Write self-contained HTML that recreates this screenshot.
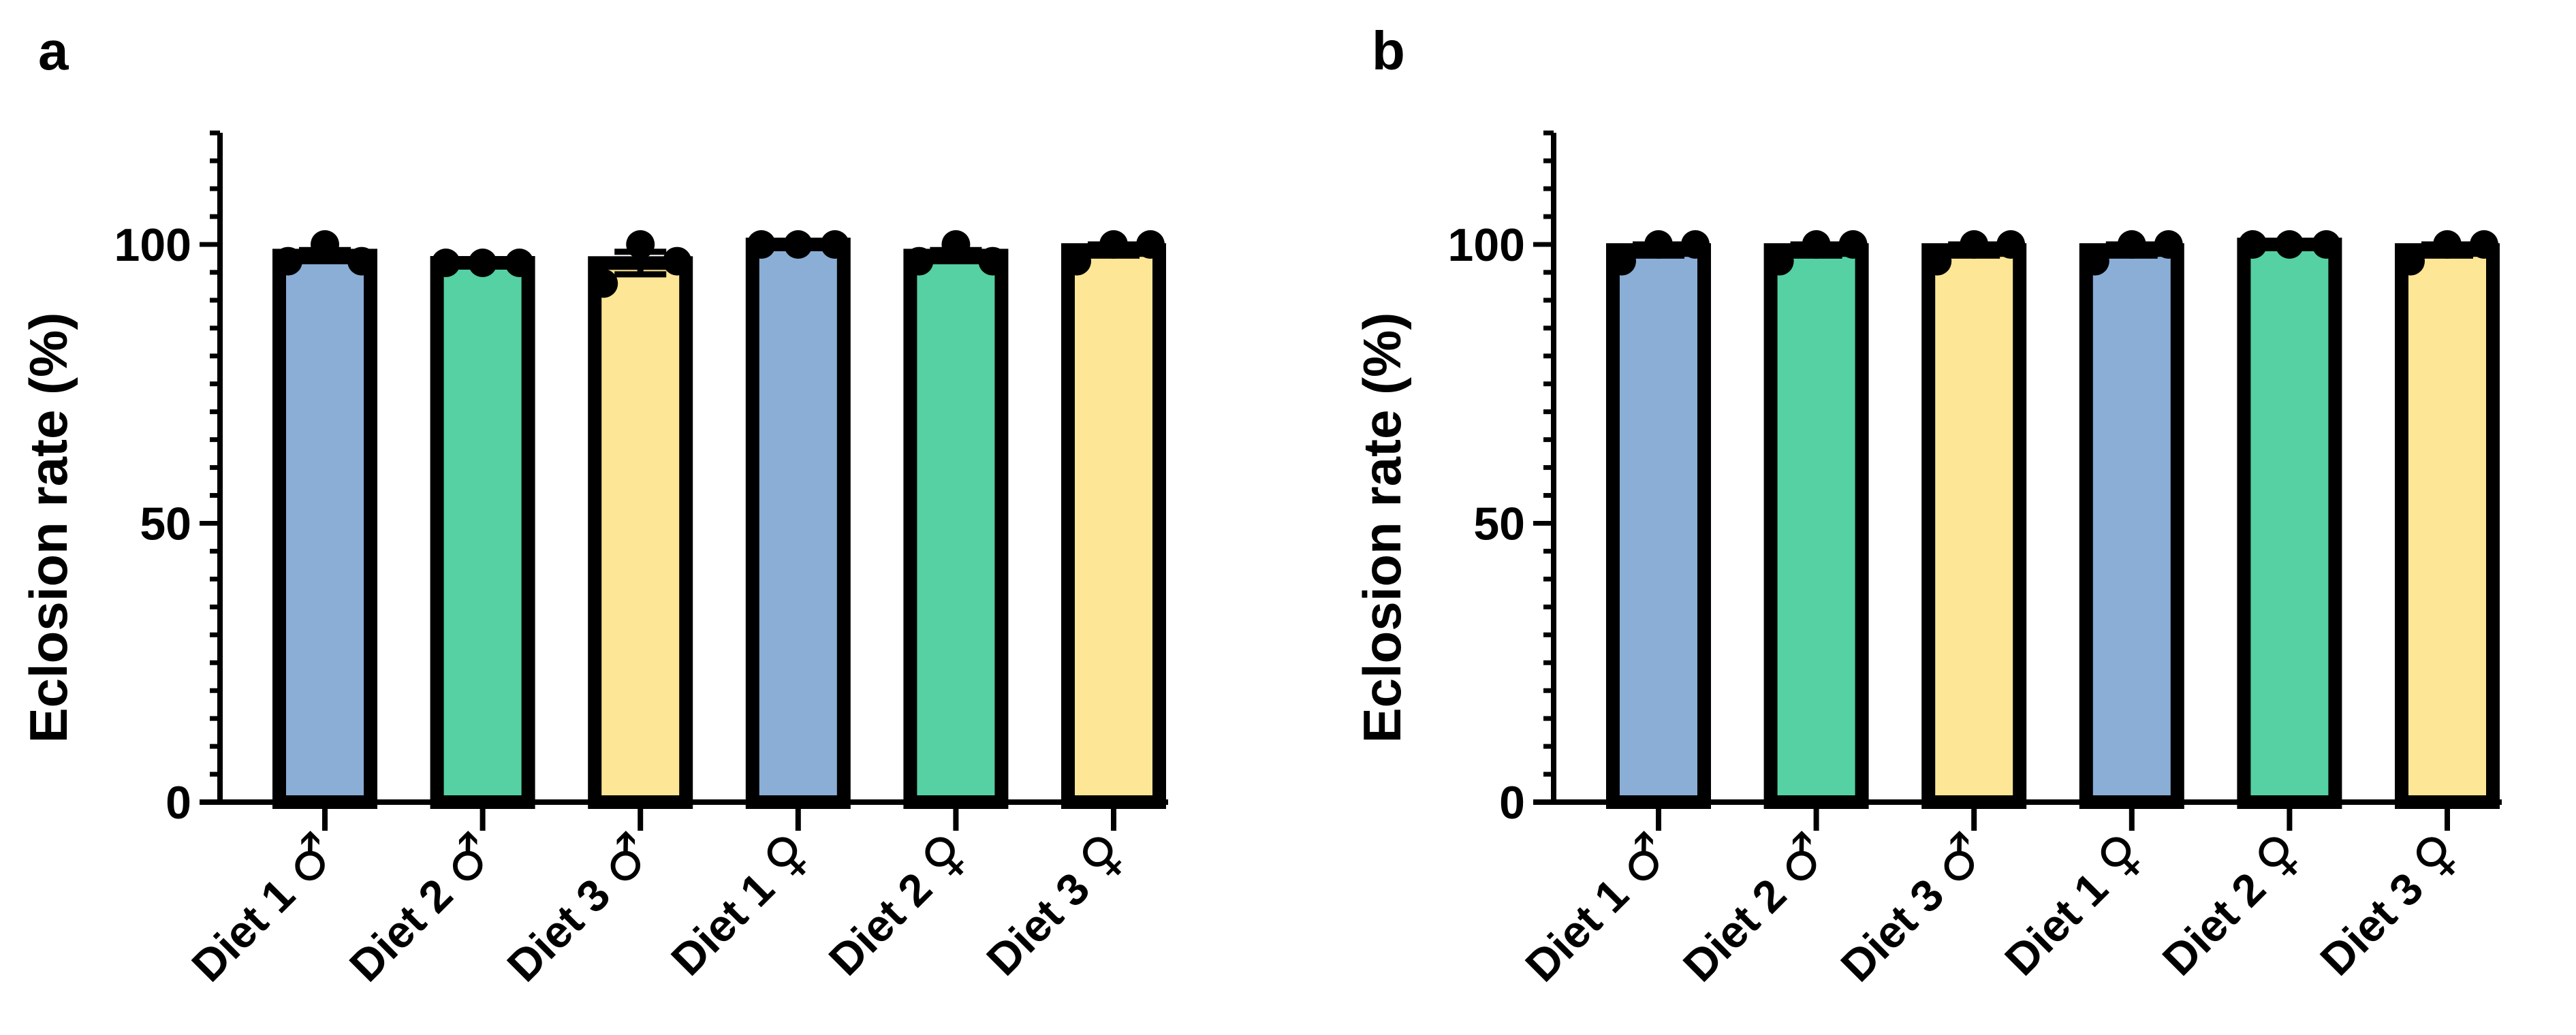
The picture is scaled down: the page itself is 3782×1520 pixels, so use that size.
<!DOCTYPE html>
<html><head><meta charset="utf-8"><style>
html,body{margin:0;padding:0;background:#fff}
svg{display:block}
text{font-family:"Liberation Sans","DejaVu Sans",sans-serif;font-weight:bold;fill:#000}
.sym{font-family:"DejaVu Sans",sans-serif;font-weight:bold}
</style></head><body>
<svg id="fig" width="3782" height="1520" viewBox="0 0 3782 1520" xmlns="http://www.w3.org/2000/svg">
<text x="56" y="102" font-size="80">a</text>
<text x="2014" y="102" font-size="80">b</text>
</svg>
<script>
const categories = ["Diet 1","Diet 2","Diet 3","Diet 1","Diet 2","Diet 3"];
const sexes = ["♂","♂","♂","♀","♀","♀"];
const colors = ["#8aaed6","#55d1a3","#fde696","#8aaed6","#55d1a3","#fde696"];
const yTicks = [0,50,100];
const pointsA = [[97,100,97],[96.7,96.7,96.7],[93,100,97],[100,100,100],[97,100,97],[97,100,100]];
const pointsB = [[97,100,100],[97,100,100],[97,100,100],[97,100,100],[100,100,100],[97,100,100]];

const NS="http://www.w3.org/2000/svg";
const svg=document.getElementById('fig');
function mk(tag,attrs,parent){const e=document.createElementNS(NS,tag);for(const k in attrs)e.setAttribute(k,attrs[k]);(parent||svg).appendChild(e);return e;}

function panel(ox, pts, id){
  const g=mk('g',{});
  
  
  const axX=ox+323, y0=1178, y100=359, xEnd=ox+1715;
  const yS=v=>y0-(y0-y100)*v/100;
  const xS=i=>ox+477+i*231.6;
  pts.forEach((p,i)=>{
    const m=p.reduce((a,b)=>a+b,0)/p.length;
    const sd=Math.sqrt(p.reduce((a,b)=>a+(b-m)*(b-m),0)/(p.length-1));
    const sem=sd/Math.sqrt(p.length);
    const cx=xS(i), w=134;
    const r=mk('rect',{x:cx-w/2,y:yS(m),width:w,height:y0-yS(m),fill:colors[i],stroke:'#000','stroke-width':20},g);
    
    
    const eb=mk('path',{d:`M${cx} ${yS(m-sem)}V${yS(m+sem)}M${cx-38} ${yS(m+sem)}H${cx+38}M${cx-38} ${yS(m-sem)}H${cx+38}`,stroke:'#000','stroke-width':9,fill:'none'},g);
    
    
    p.forEach((v,j)=>{
      const c=mk('circle',{cx:cx+(j-1)*54,cy:yS(v),r:21,fill:'#000'},g);
      
      
    });
    const t=mk('line',{x1:cx,x2:cx,y1:y0,y2:y0+42,stroke:'#000','stroke-width':8},g);
    
    
    const ax=cx+22, ay=y0+78;
    const lb=mk('text',{x:ax,y:ay,'font-size':66,'text-anchor':'end',transform:`rotate(-45 ${ax} ${ay})`},g);
    
    
    const t1=mk('tspan',{},lb); t1.textContent=categories[i]+' ';
    const t2=mk('tspan',{class:'sym','font-size':78},lb); t2.textContent=sexes[i];
  });
  const ya=mk('line',{x1:axX,x2:axX,y1:195,y2:y0+4,stroke:'#000','stroke-width':8},g);
  
  
  const xa=mk('line',{x1:axX-30,x2:xEnd,y1:y0,y2:y0,stroke:'#000','stroke-width':8},g);
  
  
  for(let v=5;v<=120;v+=5){
    const major=v%50===0;
    const tk=mk('line',{x1:axX-(major?30:15),x2:axX,y1:yS(v),y2:yS(v),stroke:'#000','stroke-width':7},g);
    
    
  }
  yTicks.forEach(v=>{
    const t=mk('text',{x:axX-42,y:yS(v)+24,'font-size':68,'text-anchor':'end'},g);
    t.textContent=v;
    
    
  });
  const tt=mk('text',{x:ox+98,y:775,'font-size':78,'text-anchor':'middle',transform:`rotate(-90 ${ox+98} 775)`},g);
  tt.textContent='Eclosion rate (%)';
  
  
}
panel(0, pointsA, 'a');
panel(1958, pointsB, 'b');
</script>
</body></html>
